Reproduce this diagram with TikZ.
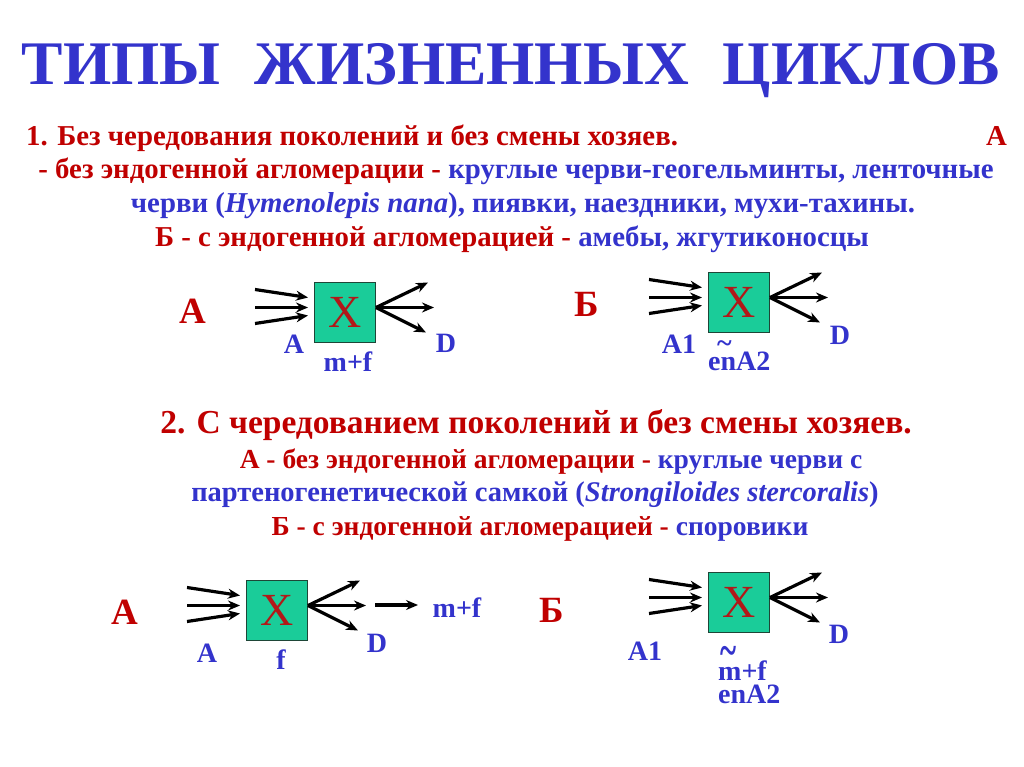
\documentclass[tikz,border=0pt]{standalone}
\usepackage{fontspec}
\setmainfont{Liberation Serif}
\usetikzlibrary{arrows.meta,calc}
\definecolor{tblue}{RGB}{51,51,204}
\definecolor{tred}{RGB}{192,0,0}
\definecolor{xred}{RGB}{178,24,24}
\definecolor{boxfill}{RGB}{26,204,153}
\definecolor{boxline}{RGB}{30,70,55}
\newcommand\fs[1]{\fontsize{#1}{#1}\selectfont}
\newcommand\lcdiag[3]{%
  \node[xbox, anchor=north west] (#1) at (#2,#3) {X};
  \coordinate (#1-w) at ($(#1.west)+(0,-5)$);
  \coordinate (#1-e) at ($(#1.east)+(0,-5)$);
  \coordinate (#1-a1) at ($(#1-w)+(-59,-18)$);
  \coordinate (#1-a2) at ($(#1-w)+(-59,0)$);
  \coordinate (#1-a3) at ($(#1-w)+(-59,16)$);
  \coordinate (#1-b1) at ($(#1-w)+(-6,-10)$);
  \coordinate (#1-b2) at ($(#1-w)+(-6,0)$);
  \coordinate (#1-b3) at ($(#1-w)+(-6,8)$);
  \coordinate (#1-o1) at ($(#1-e)+(52,-25)$);
  \coordinate (#1-o2) at ($(#1-e)+(58,0)$);
  \coordinate (#1-o3) at ($(#1-e)+(50,25)$);
  \draw[arr] (#1-a1) -- (#1-b1);
  \draw[arr] (#1-a2) -- (#1-b2);
  \draw[arr] (#1-a3) -- (#1-b3);
  \draw[arr] (#1-e) -- (#1-o1);
  \draw[arr] (#1-e) -- (#1-o2);
  \draw[arr] (#1-e) -- (#1-o3);
}
\begin{document}
\begin{tikzpicture}[x=1pt,y=-1pt,
  arr/.style={line width=3.2pt, -{Stealth[length=12pt,width=10pt]}},
  xbox/.style={draw=boxline, line width=1pt, fill=boxfill, minimum width=61pt, minimum height=60pt, inner sep=0pt, font=\fs{46}, text=xred},
  tline/.style={font=\bfseries\fs{28.8}, anchor=base, inner sep=0pt},
  tline2/.style={font=\bfseries\fs{27.5}, anchor=base, inner sep=0pt},
  lbl/.style={font=\bfseries\fontsize{28}{23}\selectfont, text=tblue, inner sep=0pt},
  big/.style={font=\bfseries\fs{37}, text=tred, inner sep=0pt}]
\fill[white] (0,0) rectangle (1024,767);
\useasboundingbox (0,0) rectangle (1024,767);

\node[font=\bfseries\fs{62}, text=tblue, anchor=base, inner sep=0pt] (title) at (511,85) {ТИПЫ\hspace{0.3em} ЖИЗНЕННЫХ\hspace{0.3em} ЦИКЛОВ};

% section 1
\node[tline, anchor=base west, text=tred] (s1l1) at (26,146) {1. Без чередования поколений и без смены хозяев.};
\node[tline, anchor=base east, text=tred] (s1a) at (1007,146) {А};
\node[tline] (s1l2) at (516,179) {\textcolor{tred}{- без эндогенной агломерации -} \textcolor{tblue}{круглые черви-геогельминты, ленточные}};
\node[tline, text=tblue] (s1l3) at (523,213) {черви (\textit{Hymenolepis nana}), пиявки, наездники, мухи-тахины.};
\node[tline] (s1l4) at (512,247) {\textcolor{tred}{Б - с эндогенной агломерацией -} \textcolor{tblue}{амебы, жгутиконосцы}};

% section 2
\node[font=\bfseries\fs{33.5}, anchor=base, inner sep=0pt, text=tred] (s2l1) at (536,433) {2. С чередованием поколений и без смены хозяев.};
\node[tline2] (s2l2) at (551,468) {\textcolor{tred}{А - без эндогенной агломерации -} \textcolor{tblue}{круглые черви с}};
\node[tline2, font=\bfseries\fs{28.5}, text=tblue] (s2l3) at (535,501) {партеногенетической самкой (\textit{Strongiloides stercoralis})};
\node[tline2] (s2l4) at (540,535) {\textcolor{tred}{Б - с эндогенной агломерацией -} \textcolor{tblue}{споровики}};

% diagram 1A
\lcdiag{d1a}{314}{282}
\node[big] (r1a) at (193,311) {А};
\node[lbl] (l1a) at (294,344) {A};
\node[lbl] (m1a) at (348,362) {m+f};
\node[lbl] (dd1a) at (446,343) {D};

% diagram 1B
\lcdiag{d1b}{708}{272}
\node[big] (r1b) at (587,304) {Б};
\node[lbl] (l1b) at (679,344) {A1};
\node[lbl, align=left, anchor=base west] (e1b) at (708,370) {\hspace*{9pt}\textasciitilde\\[-5.5pt]enA2};
\node[lbl] (dd1b) at (840,335) {D};

% diagram 2A
\lcdiag{d2a}{246}{580}
\node[big] (r2a) at (125,612) {А};
\node[lbl] (l2a) at (207,653) {A};
\node[lbl] (f2a) at (281,660) {f};
\node[lbl] (dd2a) at (377,643) {D};
\node[lbl] (mf2a) at (457,608) {m+f};
\coordinate (x2a-s) at (375,605);
\coordinate (x2a-e) at (418,605);
\draw[arr] (x2a-s) -- (x2a-e);

% diagram 2B
\lcdiag{d2b}{708}{572}
\node[big] (r2b) at (552,610) {Б};
\node[lbl] (l2b) at (645,651) {A1};
\node[lbl, align=left, anchor=base west] (s2b) at (718,703) {\hspace*{2pt}\scalebox{1.1}[1.7]{\textasciitilde}\\[-9pt]m+f\\enA2};
\node[lbl] (dd2b) at (839,634) {D};
\end{tikzpicture}
\end{document}
